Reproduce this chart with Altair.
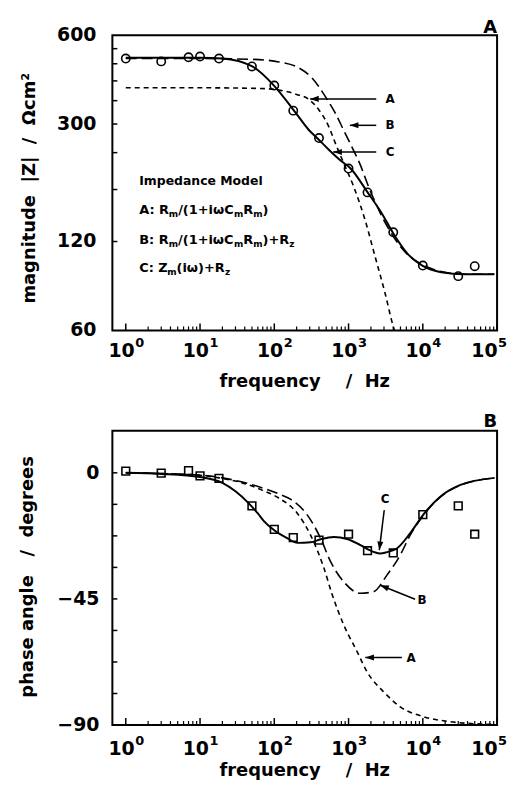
import altair as alt
import pandas as pd

FONT = "DejaVu Sans"
NB = "\u00a0"

# ---------------- measured data (frequency in Hz) ----------------
freq_meas = [1, 3, 7, 10, 18, 50, 100, 180, 400, 1000, 1800, 4000, 10000, 30000, 50000]
mag_meas = [500, 489, 505, 508, 500, 470, 405, 333, 269, 212, 176, 129, 99.5, 91.6, 99]
phase_meas = [0.6, -0.1, 0.8, -1.1, -2.0, -11.8, -20.2, -23.1, -24.0, -21.9, -27.8, -28.6, -14.9, -11.8, -21.9]

# ---------------- model A : Rm/(1+iwCmRm) ----------------
magA_f = [1, 10, 60, 100, 157, 200, 290, 395, 538, 661, 855, 1164, 1668, 2270, 3090, 3990, 4150]
magA_v = [398, 398, 396, 393, 385, 378, 364, 336, 295, 259, 222, 185, 142, 107, 80.5, 62, 60]
phA_f = [1, 10, 18, 36, 66, 115, 205, 309, 466, 603, 862, 1303, 1775, 2958, 4955, 10160, 23100, 87900]
phA_v = [0, -0.9, -1.8, -3.5, -6.0, -9.0, -14.5, -22.3, -34.0, -43.5, -54.3, -63.8, -71.0, -78.1, -83.5, -87.0, -88.8, -89.8]

# ---------------- model B : Rm/(1+iwCmRm)+Rz ----------------
magB_f = [1, 10, 50, 115, 214, 322, 486, 661, 853, 1100, 1430, 1846, 3990, 6340, 10000, 17700, 36300, 92000]
magB_v = [500, 500, 497, 487, 465, 430, 372, 327, 287, 252, 219, 185, 125, 108, 100, 95, 93, 93]
phB_f = [1, 10, 18, 36, 66, 115, 167, 279, 421, 573, 862, 1443, 2174, 3288, 4955, 6740, 10160, 17000, 31500, 92700]
phB_v = [0, -0.8, -1.6, -3.2, -5.2, -7.5, -9.5, -15.1, -23.4, -31.7, -38.9, -43.0, -42.4, -36.5, -29.4, -22.3, -15.2, -8.8, -4.5, -1.8]

# ---------------- model C : Zm(iw)+Rz ----------------
magC_f = [1, 10, 20, 50.6, 99, 183, 290, 395, 538, 811, 1050, 1807, 2780, 3990, 6340, 9840, 17700, 36300, 91500]
magC_v = [503, 503, 500, 470, 405, 334, 287, 266, 246, 224, 213, 176, 150, 128, 108.5, 99.5, 94.5, 93, 93]
phC_f = [1, 3, 10, 20, 30, 45, 60, 73, 100, 151, 205, 309, 421, 631, 955, 1443, 2174, 2673, 3288, 4470, 6740, 10160, 17000, 31500, 92700]
phC_v = [0, -0.4, -1.5, -3.6, -6.6, -10.8, -14.5, -17.3, -20.5, -23.4, -25.0, -24.8, -23.7, -22.9, -23.6, -25.8, -28.2, -28.8, -28.3, -27.0, -21.6, -14.9, -8.6, -4.4, -1.8]

# ---------------- ticks / labels ----------------
decades = [1, 10, 100, 1000, 10000, 100000]
exponents = ["0", "1", "2", "3", "4", "5"]
minor_f = [m * d for d in [1, 10, 100, 1000, 10000] for m in range(2, 10)]
mag_ticks = [120, 180, 240, 300, 360, 420, 480, 540]
mag_labels = [60, 120, 300, 600]
phase_ticks = [-78.75, -67.5, -56.25, -45, -33.75, -22.5, -11.25, 0]
phase_labels = [-90, -45, 0]

# annotation arrows: tail (f1,v1) -> tip (f2,v2), label at (lf,lv)
arrows_mag = pd.DataFrame({
    "lab": ["A", "B", "C"],
    "f1": [2360, 2360, 2360], "v1": [365, 297, 241],
    "f2": [304, 1041, 622], "v2": [365, 297, 241],
    "lf": [3630, 3630, 3630], "lv": [365, 297, 241],
    "ang": [0, 0, 0],
})
arrows_ph = pd.DataFrame({
    "lab": ["C", "B", "A"],
    "f1": [3025, 7870, 5220], "v1": [-13.3, -45.1, -65.9],
    "f2": [2594, 2673, 1683], "v2": [-27.6, -40.1, -65.9],
    "lf": [3119, 9750, 6950], "lv": [-9.2, -45.5, -66.0],
    "ang": [277, 22, 0],
})

W = 387
H1 = 297
H2 = 296

xs = alt.Scale(type="log", domain=[0.66, 100000], nice=False)
ys_mag = alt.Scale(type="log", domain=[60, 600], nice=False)
ys_ph = alt.Scale(domain=[-90, 15], nice=False, zero=False)


def X(field="f"):
    return alt.X(f"{field}:Q", scale=xs, axis=None)


def Y(sc, field="v"):
    return alt.Y(f"{field}:Q", scale=sc, axis=None)


def curve(fs, vs, sc, dash=None, width=1.6):
    kw = dict(color="black", strokeWidth=width, interpolate="monotone", clip=True)
    if dash:
        kw["strokeDash"] = dash
    return alt.Chart(pd.DataFrame({"f": fs, "v": vs})).mark_line(**kw).encode(x=X(), y=Y(sc))


def txt(text, x, y, size=13, align="left", baseline="alphabetic", angle=0):
    kw = dict(text=text, align=align, baseline=baseline, font=FONT, fontSize=size,
              fontWeight="bold", color="black")
    if angle:
        kw["angle"] = angle
    return alt.Chart(pd.DataFrame({"d": [0]})).mark_text(**kw).encode(
        x=alt.value(x), y=alt.value(y))


def xticks(H):
    major = alt.Chart(pd.DataFrame({"f": decades})).mark_rule(color="black", strokeWidth=1.5).encode(
        x=X(), y=alt.value(H), y2=alt.value(H - 7))
    minor = alt.Chart(pd.DataFrame({"f": minor_f})).mark_rule(color="black", strokeWidth=1.2).encode(
        x=X(), y=alt.value(H), y2=alt.value(H - 4))
    return [major, minor]


def xlabels(H, base, sup):
    out = []
    # last label (10^5) is pulled left so that it stays under the frame
    for sl, shift in ((slice(0, 5), 0), (slice(5, 6), -8.5)):
        df = pd.DataFrame({"f": decades[sl], "e": exponents[sl]})
        out.append(alt.Chart(df).mark_text(
            text="10", align="right", baseline="alphabetic", dx=9 + shift,
            font=FONT, fontSize=19, fontWeight="bold", color="black").encode(
            x=X(), y=alt.value(H + base)))
        out.append(alt.Chart(df).mark_text(
            align="left", baseline="alphabetic", dx=9.5 + shift,
            font=FONT, fontSize=13, fontWeight="bold", color="black").encode(
            x=X(), y=alt.value(H + sup), text="e:N"))
    return out


def yticks(vals, sc):
    return alt.Chart(pd.DataFrame({"v": vals})).mark_rule(color="black", strokeWidth=1.5).encode(
        y=Y(sc), x=alt.value(0), x2=alt.value(5))


def ylabels(vals, sc, dx):
    return alt.Chart(pd.DataFrame({"v": vals})).mark_text(
        align="right", baseline="middle", font=FONT, fontSize=19, fontWeight="bold", color="black").encode(
        y=Y(sc), x=alt.value(dx), text=alt.Text("v:Q", format="d"))


def arrows(df, sc):
    base = alt.Chart(df)
    shaft = base.mark_rule(color="black", strokeWidth=1.5).encode(
        x=X("f1"), y=Y(sc, "v1"), x2="f2:Q", y2="v2:Q")
    head = base.mark_point(shape="M0,0L1,-0.35L1,0.35Z", size=300, filled=True, color="black",
                           opacity=1, strokeWidth=0).encode(
        x=X("f2"), y=Y(sc, "v2"), angle=alt.Angle("ang:Q", scale=None))
    lab = base.mark_text(font=FONT, fontSize=12, fontWeight="bold", align="center",
                         baseline="middle", color="black").encode(
        x=X("lf"), y=Y(sc, "lv"), text="lab:N")
    return [shaft, head, lab]


# character advance widths (em) of DejaVu Sans Bold for the formula layout
CW = {'A': 0.774, 'B': 0.765, 'C': 0.734, 'Z': 0.685, 'R': 0.770, ':': 0.400, ' ': 0.348,
      '/': 0.365, '(': 0.457, ')': 0.457, '1': 0.696, '+': 0.838, 'i': 0.343, 'ω': 0.89,
      'm': 1.042, 'z': 0.585}


def formula(parts, x0, y0, size=13, subsize=9):
    out = []
    x = x0
    for s, sub in parts:
        fs = subsize if sub else size
        out.append(txt(s, x, y0 + (3 if sub else 0), size=fs))
        x += sum(CW[c] for c in s) * fs
    return out


lineA = [("A: R", 0), ("m", 1), ("/(1+iωC", 0), ("m", 1), ("R", 0), ("m", 1), (")", 0)]
lineB = [("B: R", 0), ("m", 1), ("/(1+iωC", 0), ("m", 1), ("R", 0), ("m", 1), (")+R", 0), ("z", 1)]
lineC = [("C: Z", 0), ("m", 1), ("(iω)+R", 0), ("z", 1)]

xtitle = "frequency" + NB * 4 + "/" + NB * 2 + "Hz"
ytitle_mag = "magnitude" + NB * 2 + "|Z|" + NB * 2 + "/" + NB * 2 + "Ωcm²"
ytitle_ph = "phase" + NB + "angle" + NB * 3 + "/" + NB * 2 + "degrees"

# ---------------- top panel : magnitude ----------------
top_layers = [
    curve(magA_f, magA_v, ys_mag, dash=[5, 4]),
    curve(magB_f, magB_v, ys_mag, dash=[11, 5]),
    curve(magC_f, magC_v, ys_mag, width=2),
    alt.Chart(pd.DataFrame({"f": freq_meas, "v": mag_meas})).mark_point(
        shape="circle", size=70, filled=False, color="black", strokeWidth=1.6, opacity=1).encode(
        x=X(), y=Y(ys_mag)),
    *xticks(H1),
    yticks(mag_ticks, ys_mag),
    *xlabels(H1, 27, 17),
    ylabels(mag_labels, ys_mag, -16),
    txt(xtitle, W / 2, H1 + 57, size=18, align="center"),
    txt(ytitle_mag, -77.5, 154, size=18, align="center", angle=270),
    txt("A", W, -2.5, size=18, align="right"),
    txt("Impedance Model", 27, 151, size=12.5),
    *formula(lineA, 27, 180),
    *formula(lineB, 27, 210),
    *formula(lineC, 27, 238.5),
    *arrows(arrows_mag, ys_mag),
]
top = alt.layer(*top_layers).properties(width=W, height=H1)

# ---------------- bottom panel : phase ----------------
bot_layers = [
    curve(phA_f, phA_v, ys_ph, dash=[5, 4]),
    curve(phB_f, phB_v, ys_ph, dash=[11, 5]),
    curve(phC_f, phC_v, ys_ph, width=2),
    alt.Chart(pd.DataFrame({"f": freq_meas, "v": phase_meas})).mark_point(
        shape="square", size=60, filled=False, color="black", strokeWidth=1.6, opacity=1).encode(
        x=X(), y=Y(ys_ph)),
    *xticks(H2),
    yticks(phase_ticks, ys_ph),
    *xlabels(H2, 30, 20),
    ylabels(phase_labels, ys_ph, -13),
    txt(xtitle, W / 2, H2 + 51, size=18, align="center"),
    txt(ytitle_ph, -80, 147, size=18, align="center", angle=270),
    txt("B", W, -3.4, size=18, align="right"),
    *arrows(arrows_ph, ys_ph),
]
bottom = alt.layer(*bot_layers).properties(width=W, height=H2)

chart = alt.vconcat(top, bottom, spacing=20).properties(
    padding={"left": 10, "top": 7, "right": 0, "bottom": 0}
).configure_view(stroke="black", strokeWidth=2)

chart.save("out.html", embed_options={"renderer": "svg", "actions": False})
